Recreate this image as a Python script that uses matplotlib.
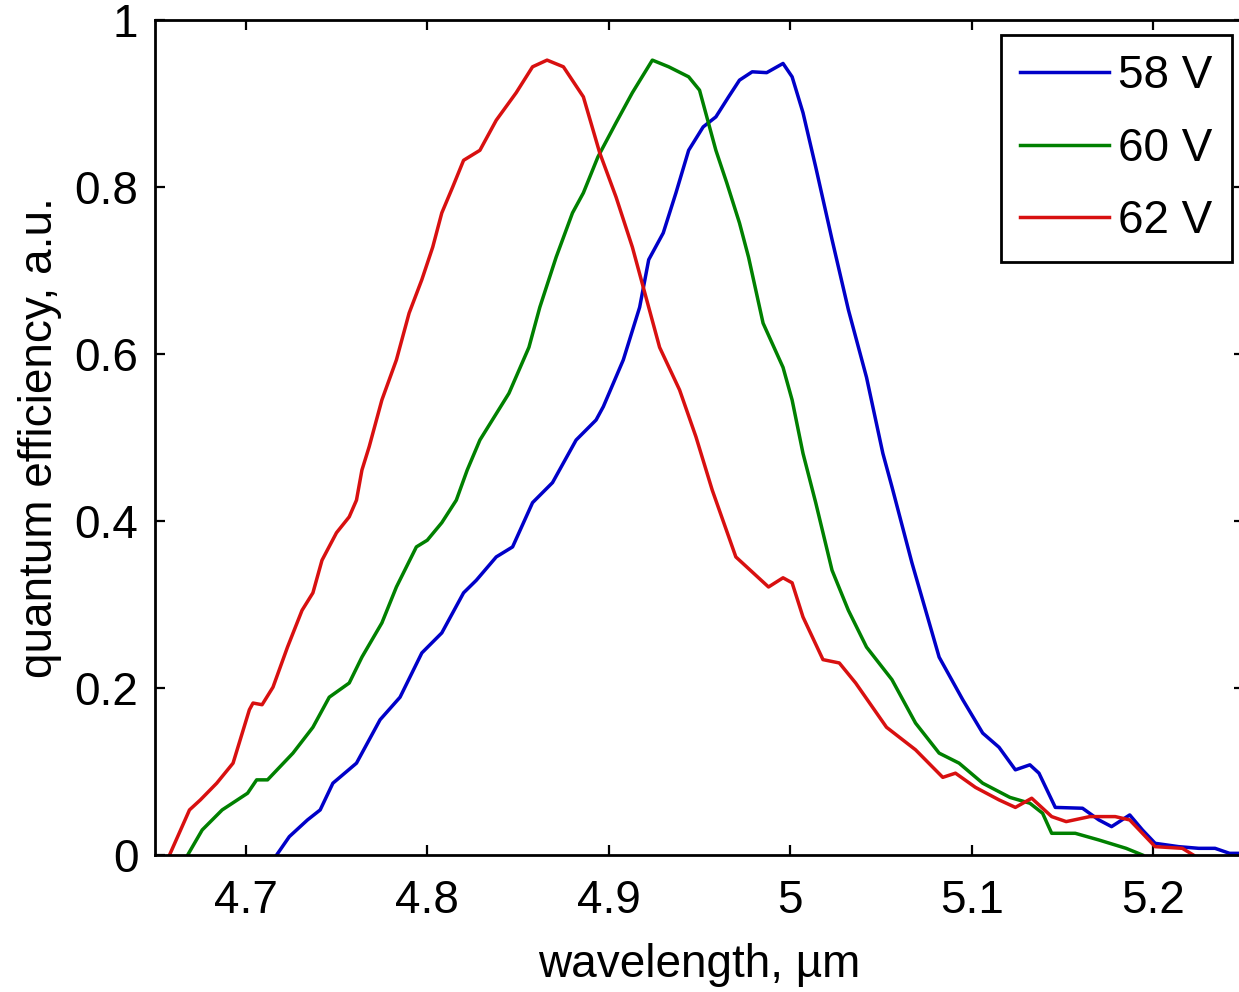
import numpy as np
import matplotlib
matplotlib.use("Agg")
import matplotlib.pyplot as plt

# ---------- data ----------
wl_58 = [4.717, 4.724, 4.734, 4.741, 4.748, 4.761, 4.774, 4.785, 4.797, 4.808,
         4.820, 4.827, 4.838, 4.847, 4.858, 4.869, 4.882, 4.893, 4.897, 4.908,
         4.917, 4.922, 4.930, 4.937, 4.944, 4.952, 4.959, 4.966, 4.972, 4.979,
         4.987, 4.996, 5.001, 5.007, 5.014, 5.023, 5.032, 5.042, 5.051, 5.056,
         5.067, 5.082, 5.095, 5.106, 5.115, 5.124, 5.132, 5.137, 5.146, 5.161,
         5.170, 5.177, 5.187, 5.194, 5.201, 5.214, 5.225, 5.234, 5.242, 5.250]
qe_58 = [0.000, 0.022, 0.042, 0.054, 0.086, 0.110, 0.162, 0.189, 0.242, 0.266,
         0.314, 0.329, 0.357, 0.369, 0.422, 0.446, 0.497, 0.521, 0.537, 0.593,
         0.656, 0.713, 0.745, 0.793, 0.844, 0.872, 0.884, 0.908, 0.928, 0.938,
         0.937, 0.948, 0.932, 0.889, 0.824, 0.737, 0.653, 0.572, 0.481, 0.441,
         0.350, 0.237, 0.186, 0.146, 0.129, 0.102, 0.108, 0.098, 0.057, 0.056,
         0.042, 0.034, 0.048, 0.030, 0.014, 0.010, 0.008, 0.008, 0.002, 0.002]

wl_60 = [4.668, 4.676, 4.687, 4.701, 4.706, 4.712, 4.726, 4.737, 4.746, 4.757,
         4.764, 4.775, 4.783, 4.794, 4.800, 4.808, 4.816, 4.822, 4.829, 4.845,
         4.856, 4.862, 4.871, 4.880, 4.886, 4.894, 4.904, 4.913, 4.924, 4.933,
         4.944, 4.950, 4.954, 4.959, 4.965, 4.972, 4.977, 4.985, 4.996, 5.001,
         5.007, 5.014, 5.023, 5.032, 5.042, 5.056, 5.069, 5.082, 5.093, 5.106,
         5.121, 5.132, 5.139, 5.144, 5.157, 5.170, 5.185, 5.194]
qe_60 = [0.000, 0.030, 0.054, 0.074, 0.090, 0.090, 0.122, 0.153, 0.189, 0.206,
         0.237, 0.278, 0.321, 0.369, 0.377, 0.398, 0.425, 0.461, 0.497, 0.553,
         0.608, 0.656, 0.716, 0.769, 0.793, 0.836, 0.877, 0.913, 0.952, 0.944,
         0.932, 0.916, 0.884, 0.844, 0.805, 0.757, 0.716, 0.637, 0.584, 0.545,
         0.481, 0.422, 0.341, 0.293, 0.249, 0.210, 0.158, 0.122, 0.110, 0.086,
         0.069, 0.062, 0.050, 0.026, 0.026, 0.018, 0.008, 0.000]

wl_62 = [4.658, 4.669, 4.675, 4.684, 4.693, 4.702, 4.704, 4.709, 4.715, 4.723,
         4.731, 4.737, 4.742, 4.750, 4.757, 4.761, 4.764, 4.768, 4.775, 4.783,
         4.790, 4.797, 4.803, 4.808, 4.814, 4.820, 4.829, 4.838, 4.849, 4.858,
         4.866, 4.875, 4.886, 4.895, 4.904, 4.913, 4.919, 4.928, 4.939, 4.948,
         4.957, 4.970, 4.988, 4.996, 5.001, 5.007, 5.018, 5.027, 5.036, 5.053,
         5.069, 5.084, 5.091, 5.102, 5.115, 5.124, 5.133, 5.144, 5.152, 5.165,
         5.179, 5.187, 5.194, 5.201, 5.216, 5.222]
qe_62 = [0.000, 0.054, 0.066, 0.086, 0.110, 0.174, 0.182, 0.180, 0.201, 0.249,
         0.293, 0.314, 0.353, 0.386, 0.405, 0.425, 0.461, 0.489, 0.545, 0.593,
         0.649, 0.689, 0.728, 0.769, 0.800, 0.832, 0.844, 0.880, 0.913, 0.944,
         0.952, 0.944, 0.908, 0.841, 0.788, 0.728, 0.680, 0.608, 0.557, 0.501,
         0.437, 0.357, 0.321, 0.332, 0.326, 0.285, 0.234, 0.230, 0.206, 0.153,
         0.126, 0.093, 0.098, 0.081, 0.066, 0.057, 0.068, 0.046, 0.040, 0.046,
         0.046, 0.042, 0.026, 0.010, 0.008, 0.000]

labels = ["58 V", "60 V", "62 V"]
colors = ["#0000c8", "#008000", "#d81010"]
x_ticks = [4.7, 4.8, 4.9, 5.0, 5.1, 5.2]
x_tick_labels = ["4.7", "4.8", "4.9", "5", "5.1", "5.2"]
y_ticks = [0, 0.2, 0.4, 0.6, 0.8, 1.0]
y_tick_labels = ["0", "0.2", "0.4", "0.6", "0.8", "1"]


def main() -> None:
    plt.rcParams["font.family"] = ["Liberation Sans", "DejaVu Sans"]
    fs = 33

    fig = plt.figure(figsize=(12.39, 9.92), dpi=100)
    # right spine sits just past the image edge, as in the reference
    ax = fig.add_axes([0.1251, 0.1381, 0.879, 0.8417])

    for wl, qe, lab, col in zip([wl_58, wl_60, wl_62], [qe_58, qe_60, qe_62], labels, colors):
        ax.plot(wl, qe, color=col, linewidth=2.5, label=lab)

    ax.set_xlim(4.65, 5.25)
    ax.set_ylim(0, 1)
    ax.set_xticks(x_ticks)
    ax.set_xticklabels(x_tick_labels)
    ax.set_yticks(y_ticks)
    ax.set_yticklabels(y_tick_labels)

    ax.tick_params(direction="in", top=True, right=True, length=7, width=1.6,
                   labelsize=fs, colors="black")
    ax.tick_params(axis="x", pad=17)
    ax.tick_params(axis="y", pad=12)
    for sp in ax.spines.values():
        sp.set_linewidth(2.0)

    ax.set_xlabel("wavelength, µm", fontsize=fs, labelpad=15)
    ax.set_ylabel("quantum efficiency, a.u.", fontsize=fs, labelpad=9)

    leg = ax.legend(loc="upper right", bbox_to_anchor=(0.9944, 0.9647),
                    bbox_transform=fig.transFigure, fontsize=fs, fancybox=False,
                    edgecolor="black", framealpha=1, borderpad=0.42,
                    handlelength=1.95, handletextpad=0.2, labelspacing=0.62,
                    borderaxespad=0)
    leg.get_frame().set_linewidth(2.0)

    fig.savefig("out.png", dpi=100)
    plt.close(fig)


if __name__ == "__main__":
    main()
